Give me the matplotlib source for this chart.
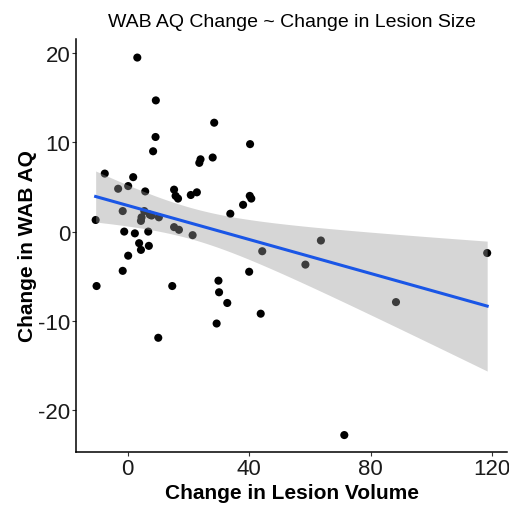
import numpy as np
import matplotlib
matplotlib.use("Agg")
import matplotlib.pyplot as plt

plt.rcParams['font.family'] = ['Liberation Sans', 'DejaVu Sans']
plt.rcParams['axes.unicode_minus'] = False

lesion_change = [3.2, 9.3, 28.5, 9.2, 8.4, 40.3, 24.0, 23.6, 28.0, -7.5,
                 1.85, -3.1, 0.2, 5.8, 15.3, 15.8, 16.6, 20.8, 22.8, 40.2,
                 40.7, 38.0, 33.8, -1.6, -10.5, 5.5, 4.6, 4.4, 7.3, 10.3,
                 7.9, 15.3, 16.9, 21.4, 44.3, -1.1, 2.4, 6.8, 3.8, 4.4,
                 7.0, 0.2, -1.6, -10.2, 14.7, 40.0, 29.9, 30.1, 32.8, 43.8,
                 29.3, 10.1, 63.6, 58.5, 88.3, 118.3, 71.3]
wab_change = [19.5, 14.7, 12.2, 10.6, 9.0, 9.8, 8.1, 7.7, 8.3, 6.5,
              6.1, 4.8, 5.1, 4.5, 4.7, 4.0, 3.7, 4.1, 4.4, 4.0,
              3.7, 3.0, 2.0, 2.3, 1.3, 2.3, 1.6, 1.2, 1.9, 1.6,
              1.8, 0.5, 0.2, -0.4, -2.2, 0.0, -0.2, 0.0, -1.3, -2.05,
              -1.6, -2.7, -4.4, -6.1, -6.1, -4.5, -5.5, -6.8, -8.0, -9.2,
              -10.3, -11.9, -1.0, -3.7, -7.9, -2.4, -22.8]

x_ticks = [0, 40, 80, 120]
y_ticks = [-20, -10, 0, 10, 20]

title = "WAB AQ Change ~ Change in Lesion Size"
xlabel = "Change in Lesion Volume"
ylabel = "Change in WAB AQ"

x = np.array(lesion_change)
y = np.array(wab_change)
n = len(x)

# linear fit with 95% confidence band
b1, b0 = np.polyfit(x, y, 1)
resid = y - (b0 + b1 * x)
s = np.sqrt(np.sum(resid ** 2) / (n - 2))
xg = np.linspace(x.min(), x.max(), 200)
yg = b0 + b1 * xg
t_crit = 2.0017  # t(0.975, df=55)
se = s * np.sqrt(1.0 / n + (xg - x.mean()) ** 2 / np.sum((x - x.mean()) ** 2))

fig = plt.figure(figsize=(5.10, 5.06), dpi=100)
ax = fig.add_axes([0.150, 0.1047, 0.844, 0.8166])

ax.scatter(x, y, s=34, color='black', edgecolors='none', zorder=2)
ax.fill_between(xg, yg - t_crit * se, yg + t_crit * se, color='#999999',
                alpha=0.4, linewidth=0, zorder=3)
ax.plot(xg, yg, color='#1a56e6', linewidth=2.2, zorder=4)

ax.set_xlim(-16.8, 124.8)
ax.set_ylim(-24.7, 21.6)
ax.set_xticks(x_ticks)
ax.set_yticks(y_ticks)
ax.tick_params(axis='both', labelsize=16, length=3, width=0.8,
               color='#333333', labelcolor='#1a1a1a', pad=1.5)

for sp in ['top', 'right']:
    ax.spines[sp].set_visible(False)
for sp in ['left', 'bottom']:
    ax.spines[sp].set_linewidth(1.1)
    ax.spines[sp].set_color('black')

ax.set_title(title, fontsize=14, pad=9)
ax.set_xlabel(xlabel, fontsize=15, fontweight='bold', labelpad=3)
ax.set_ylabel(ylabel, fontsize=15, fontweight='bold', labelpad=1)

fig.savefig("out.png", dpi=100)
